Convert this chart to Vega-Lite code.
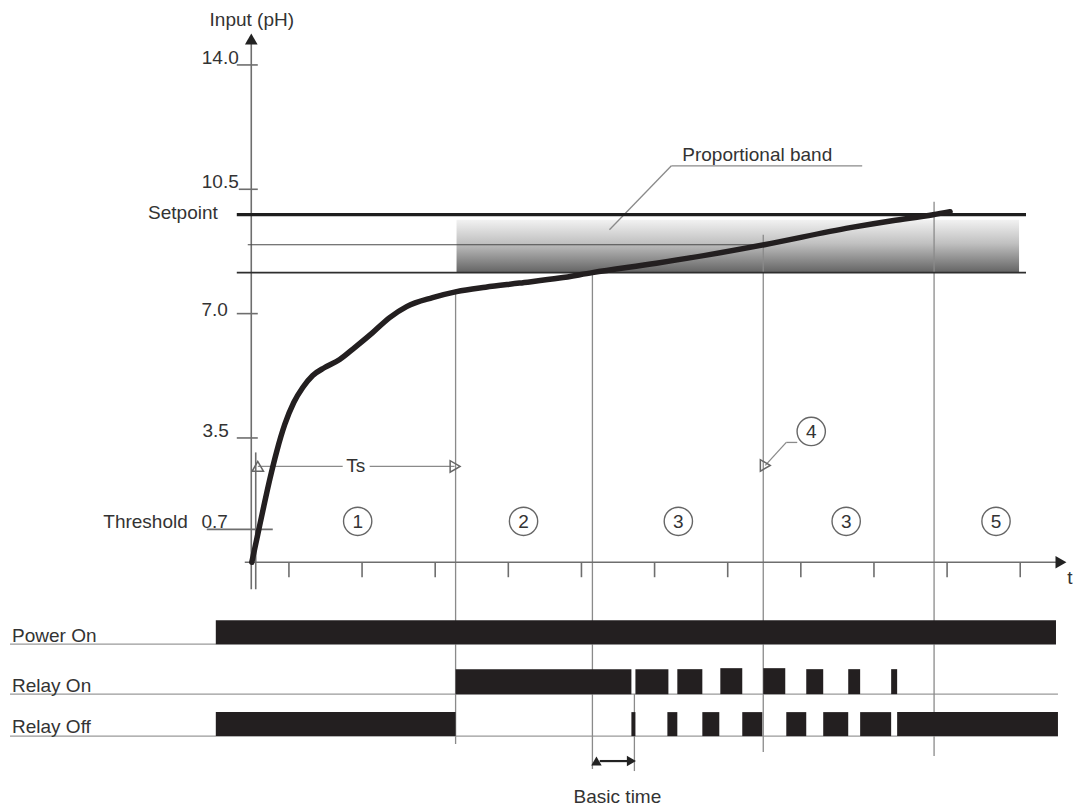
{
  "$schema": "https://vega.github.io/schema/vega-lite/v6.json",
  "width": 1073,
  "height": 808,
  "autosize": {"type": "fit", "contains": "padding"},
  "padding": 0,
  "background": "white",
  "config": {"view": {"stroke": null}},
  "datasets": {
    "band": [{"t": 3.292, "t2": 10.984, "p": 9.643, "p2": 8.153}],
    "segments": [
      {"t": 0.485, "t2": 0.485, "p": -0.759, "p2": 14.7, "kind": "axis"},
      {"t": 0.546, "t2": 0.546, "p": -0.759, "p2": 3.093, "kind": "axis"},
      {"t": 0.396, "t2": 11.557, "p": 0, "p2": 0, "kind": "axis"},
      {"t": 1, "t2": 1, "p": 0, "p2": -0.42, "kind": "axis"},
      {"t": 2, "t2": 2, "p": 0, "p2": -0.42, "kind": "axis"},
      {"t": 3, "t2": 3, "p": 0, "p2": -0.42, "kind": "axis"},
      {"t": 4, "t2": 4, "p": 0, "p2": -0.42, "kind": "axis"},
      {"t": 5, "t2": 5, "p": 0, "p2": -0.42, "kind": "axis"},
      {"t": 6, "t2": 6, "p": 0, "p2": -0.42, "kind": "axis"},
      {"t": 7, "t2": 7, "p": 0, "p2": -0.42, "kind": "axis"},
      {"t": 8, "t2": 8, "p": 0, "p2": -0.42, "kind": "axis"},
      {"t": 9, "t2": 9, "p": 0, "p2": -0.42, "kind": "axis"},
      {"t": 10, "t2": 10, "p": 0, "p2": -0.42, "kind": "axis"},
      {"t": 11, "t2": 11, "p": 0, "p2": -0.42, "kind": "axis"},
      {"t": 0.287, "t2": 0.574, "p": 14.0, "p2": 14.0, "kind": "axis"},
      {"t": 0.314, "t2": 0.574, "p": 10.5, "p2": 10.5, "kind": "axis"},
      {"t": 0.287, "t2": 0.574, "p": 7.0, "p2": 7.0, "kind": "axis"},
      {"t": 0.287, "t2": 0.574, "p": 3.5, "p2": 3.5, "kind": "axis"},
      {"t": -0.123, "t2": 0.779, "p": 0.928, "p2": 0.928, "kind": "axis"},
      {"t": 3.279, "t2": 3.279, "p": 7.675, "p2": -5.117, "kind": "thin"},
      {"t": 5.15, "t2": 5.15, "p": 8.153, "p2": -5.82, "kind": "thin"},
      {"t": 7.486, "t2": 7.486, "p": 9.221, "p2": -5.342, "kind": "thin"},
      {"t": 9.822, "t2": 9.822, "p": 10.149, "p2": -5.454, "kind": "thin"},
      {"t": 5.724, "t2": 5.724, "p": -3.711, "p2": -5.876, "kind": "thin"},
      {"t": 0.574, "t2": 1.735, "p": 2.699, "p2": 2.699, "kind": "thin"},
      {"t": 2.104, "t2": 3.265, "p": 2.699, "p2": 2.699, "kind": "thin"},
      {"t": 6.23, "t2": 8.839, "p": 11.161, "p2": 11.161, "kind": "thin"},
      {"t": 6.23, "t2": 5.383, "p": 11.161, "p2": 9.362, "kind": "thin"},
      {"t": 7.951, "t2": 7.801, "p": 3.374, "p2": 3.374, "kind": "thin"},
      {"t": 7.801, "t2": 7.514, "p": 3.374, "p2": 2.727, "kind": "thin"},
      {"t": 5.25, "t2": 5.64, "p": -5.595, "p2": -5.595, "kind": "dark"},
      {"t": 0.437, "t2": 7.5, "p": 8.94, "p2": 8.94, "kind": "mid"},
      {"t": 0.287, "t2": 11.079, "p": 9.786, "p2": 9.786, "kind": "setpoint"},
      {"t": 0.287, "t2": 11.079, "p": 8.153, "p2": 8.153, "kind": "band"},
      {"t": -2.814, "t2": 11.489, "p": -2.305, "p2": -2.305, "kind": "base"},
      {"t": -2.814, "t2": 11.516, "p": -3.711, "p2": -3.711, "kind": "base"},
      {"t": -2.814, "t2": 11.516, "p": -4.892, "p2": -4.892, "kind": "base"}
    ],
    "bars": [
      {"signal": "Power On", "t": 0, "t2": 11.489, "lo": -2.305, "hi": -1.631},
      {"signal": "Relay On", "t": 3.279, "t2": 5.683, "lo": -3.711, "hi": -3.008},
      {"signal": "Relay On", "t": 5.738, "t2": 6.189, "lo": -3.711, "hi": -3.008},
      {"signal": "Relay On", "t": 6.311, "t2": 6.653, "lo": -3.711, "hi": -3.008},
      {"signal": "Relay On", "t": 6.899, "t2": 7.199, "lo": -3.711, "hi": -2.98},
      {"signal": "Relay On", "t": 7.486, "t2": 7.787, "lo": -3.711, "hi": -2.98},
      {"signal": "Relay On", "t": 8.074, "t2": 8.306, "lo": -3.711, "hi": -3.008},
      {"signal": "Relay On", "t": 8.648, "t2": 8.811, "lo": -3.711, "hi": -3.008},
      {"signal": "Relay On", "t": 9.235, "t2": 9.317, "lo": -3.711, "hi": -3.008},
      {"signal": "Relay Off", "t": 0, "t2": 3.279, "lo": -4.892, "hi": -4.217},
      {"signal": "Relay Off", "t": 5.683, "t2": 5.738, "lo": -4.892, "hi": -4.217},
      {"signal": "Relay Off", "t": 6.175, "t2": 6.311, "lo": -4.892, "hi": -4.217},
      {"signal": "Relay Off", "t": 6.653, "t2": 6.885, "lo": -4.892, "hi": -4.217},
      {"signal": "Relay Off", "t": 7.199, "t2": 7.473, "lo": -4.892, "hi": -4.217},
      {"signal": "Relay Off", "t": 7.801, "t2": 8.074, "lo": -4.892, "hi": -4.217},
      {"signal": "Relay Off", "t": 8.306, "t2": 8.648, "lo": -4.892, "hi": -4.217},
      {"signal": "Relay Off", "t": 8.811, "t2": 9.235, "lo": -4.892, "hi": -4.217},
      {"signal": "Relay Off", "t": 9.317, "t2": 11.516, "lo": -4.892, "hi": -4.217}
    ],
    "curve": [
      {"t": 0.492, "p": 0.0},
      {"t": 0.574, "p": 0.787},
      {"t": 0.656, "p": 1.574},
      {"t": 0.738, "p": 2.333},
      {"t": 0.833, "p": 3.121},
      {"t": 0.943, "p": 3.880},
      {"t": 1.066, "p": 4.498},
      {"t": 1.189, "p": 4.920},
      {"t": 1.325, "p": 5.258},
      {"t": 1.489, "p": 5.483},
      {"t": 1.694, "p": 5.708},
      {"t": 1.899, "p": 6.045},
      {"t": 2.145, "p": 6.466},
      {"t": 2.377, "p": 6.888},
      {"t": 2.609, "p": 7.197},
      {"t": 2.964, "p": 7.45},
      {"t": 3.292, "p": 7.62},
      {"t": 3.689, "p": 7.745},
      {"t": 4.153, "p": 7.86},
      {"t": 4.699, "p": 8.0},
      {"t": 5.15, "p": 8.153},
      {"t": 6.025, "p": 8.42},
      {"t": 6.749, "p": 8.66},
      {"t": 7.5, "p": 8.94},
      {"t": 8.675, "p": 9.42},
      {"t": 9.249, "p": 9.615},
      {"t": 9.809, "p": 9.784},
      {"t": 10.041, "p": 9.87}
    ],
    "triangles": [
      {"t": 0.485, "p": 14.73, "dir": "up"},
      {"t": 11.557, "p": 0, "dir": "right"}
    ],
    "openArrows": [
      {"t": 0.574, "p": 2.699, "dir": "left"},
      {"t": 3.272, "p": 2.699, "dir": "right"},
      {"t": 7.514, "p": 2.727, "dir": "downleft"}
    ],
    "solidArrows": [
      {"t": 5.205, "p": -5.595, "dir": "left"},
      {"t": 5.683, "p": -5.595, "dir": "right"}
    ],
    "phases": [
      {"t": 1.94, "p": 1.153, "label": "1"},
      {"t": 4.208, "p": 1.153, "label": "2"},
      {"t": 6.325, "p": 1.153, "label": "3"},
      {"t": 8.62, "p": 1.153, "label": "3"},
      {"t": 10.669, "p": 1.153, "label": "5"},
      {"t": 8.142, "p": 3.683, "label": "4"}
    ],
    "labelsRight": [
      {"t": 0.314, "p": 14.197, "text": "14.0"},
      {"t": 0.314, "p": 10.711, "text": "10.5"},
      {"t": 0.027, "p": 9.84, "text": "Setpoint"},
      {"t": 0.164, "p": 7.113, "text": "7.0"},
      {"t": 0.178, "p": 3.683, "text": "3.5"},
      {"t": -0.383, "p": 1.125, "text": "Threshold"},
      {"t": 0.164, "p": 1.125, "text": "0.7"}
    ],
    "labelsCenter": [
      {"t": 0.492, "p": 15.266, "text": "Input (pH)"},
      {"t": 1.913, "p": 2.699, "text": "Ts"},
      {"t": 7.404, "p": 11.47, "text": "Proportional band"},
      {"t": 5.492, "p": -6.607, "text": "Basic time"},
      {"t": 11.68, "p": -0.45, "text": "t"}
    ],
    "labelsLeft": [
      {"t": -2.787, "p": -2.249, "text": "Power On"},
      {"t": -2.787, "p": -3.655, "text": "Relay On"},
      {"t": -2.787, "p": -4.808, "text": "Relay Off"}
    ]
  },
  "layer": [
    {
      "data": {"name": "band"},
      "mark": {
        "type": "rect",
        "fill": {
          "gradient": "linear",
          "x1": 0, "y1": 0, "x2": 0, "y2": 1,
          "stops": [
            {"offset": 0, "color": "#f2f2f2"},
            {"offset": 0.45, "color": "#c0c0c0"},
            {"offset": 1, "color": "#636363"}
          ]
        }
      },
      "encoding": {
        "x": {"field": "t", "type": "quantitative", "scale": {"domain": [-2.951, 11.708], "nice": false, "zero": false}, "axis": null},
        "x2": {"field": "t2"},
        "y": {"field": "p", "type": "quantitative", "scale": {"domain": [-6.888, 15.828], "nice": false, "zero": false}, "axis": null},
        "y2": {"field": "p2"}
      }
    },
    {
      "data": {"name": "segments"},
      "transform": [{"filter": "datum.kind === 'base'"}],
      "mark": {"type": "rule", "color": "#9a9a9a", "strokeWidth": 1.3},
      "encoding": {
        "x": {"field": "t", "type": "quantitative", "scale": {"domain": [-2.951, 11.708], "nice": false, "zero": false}, "axis": null},
        "x2": {"field": "t2"},
        "y": {"field": "p", "type": "quantitative", "scale": {"domain": [-6.888, 15.828], "nice": false, "zero": false}, "axis": null},
        "y2": {"field": "p2"}
      }
    },
    {
      "data": {"name": "segments"},
      "transform": [{"filter": "datum.kind === 'thin'"}],
      "mark": {"type": "rule", "color": "#8a8a8a", "strokeWidth": 1.3},
      "encoding": {
        "x": {"field": "t", "type": "quantitative", "scale": {"domain": [-2.951, 11.708], "nice": false, "zero": false}, "axis": null},
        "x2": {"field": "t2"},
        "y": {"field": "p", "type": "quantitative", "scale": {"domain": [-6.888, 15.828], "nice": false, "zero": false}, "axis": null},
        "y2": {"field": "p2"}
      }
    },
    {
      "data": {"name": "segments"},
      "transform": [{"filter": "datum.kind === 'axis'"}],
      "mark": {"type": "rule", "color": "#6e6e6e", "strokeWidth": 1.6},
      "encoding": {
        "x": {"field": "t", "type": "quantitative", "scale": {"domain": [-2.951, 11.708], "nice": false, "zero": false}, "axis": null},
        "x2": {"field": "t2"},
        "y": {"field": "p", "type": "quantitative", "scale": {"domain": [-6.888, 15.828], "nice": false, "zero": false}, "axis": null},
        "y2": {"field": "p2"}
      }
    },
    {
      "data": {"name": "segments"},
      "transform": [{"filter": "datum.kind === 'mid'"}],
      "mark": {"type": "rule", "color": "#4a4a4a", "strokeWidth": 1.1},
      "encoding": {
        "x": {"field": "t", "type": "quantitative", "scale": {"domain": [-2.951, 11.708], "nice": false, "zero": false}, "axis": null},
        "x2": {"field": "t2"},
        "y": {"field": "p", "type": "quantitative", "scale": {"domain": [-6.888, 15.828], "nice": false, "zero": false}, "axis": null},
        "y2": {"field": "p2"}
      }
    },
    {
      "data": {"name": "segments"},
      "transform": [{"filter": "datum.kind === 'band'"}],
      "mark": {"type": "rule", "color": "#2e2e2e", "strokeWidth": 1.7},
      "encoding": {
        "x": {"field": "t", "type": "quantitative", "scale": {"domain": [-2.951, 11.708], "nice": false, "zero": false}, "axis": null},
        "x2": {"field": "t2"},
        "y": {"field": "p", "type": "quantitative", "scale": {"domain": [-6.888, 15.828], "nice": false, "zero": false}, "axis": null},
        "y2": {"field": "p2"}
      }
    },
    {
      "data": {"name": "segments"},
      "transform": [{"filter": "datum.kind === 'setpoint'"}],
      "mark": {"type": "rule", "color": "#1e1e1e", "strokeWidth": 3.3},
      "encoding": {
        "x": {"field": "t", "type": "quantitative", "scale": {"domain": [-2.951, 11.708], "nice": false, "zero": false}, "axis": null},
        "x2": {"field": "t2"},
        "y": {"field": "p", "type": "quantitative", "scale": {"domain": [-6.888, 15.828], "nice": false, "zero": false}, "axis": null},
        "y2": {"field": "p2"}
      }
    },
    {
      "data": {"name": "segments"},
      "transform": [{"filter": "datum.kind === 'dark'"}],
      "mark": {"type": "rule", "color": "#222222", "strokeWidth": 2.2},
      "encoding": {
        "x": {"field": "t", "type": "quantitative", "scale": {"domain": [-2.951, 11.708], "nice": false, "zero": false}, "axis": null},
        "x2": {"field": "t2"},
        "y": {"field": "p", "type": "quantitative", "scale": {"domain": [-6.888, 15.828], "nice": false, "zero": false}, "axis": null},
        "y2": {"field": "p2"}
      }
    },
    {
      "data": {"name": "bars"},
      "mark": {"type": "rect", "color": "#231f20"},
      "encoding": {
        "x": {"field": "t", "type": "quantitative", "scale": {"domain": [-2.951, 11.708], "nice": false, "zero": false}, "axis": null},
        "x2": {"field": "t2"},
        "y": {"field": "lo", "type": "quantitative", "scale": {"domain": [-6.888, 15.828], "nice": false, "zero": false}, "axis": null},
        "y2": {"field": "hi"}
      }
    },
    {
      "data": {"name": "curve"},
      "mark": {"type": "line", "color": "#231f20", "strokeWidth": 5.5, "interpolate": "monotone", "strokeCap": "round"},
      "encoding": {
        "x": {"field": "t", "type": "quantitative", "scale": {"domain": [-2.951, 11.708], "nice": false, "zero": false}, "axis": null},
        "y": {"field": "p", "type": "quantitative", "scale": {"domain": [-6.888, 15.828], "nice": false, "zero": false}, "axis": null}
      }
    },
    {
      "data": {"name": "triangles"},
      "mark": {"type": "point", "filled": true, "color": "#222222", "size": 160, "opacity": 1},
      "encoding": {
        "x": {"field": "t", "type": "quantitative", "scale": {"domain": [-2.951, 11.708], "nice": false, "zero": false}, "axis": null},
        "y": {"field": "p", "type": "quantitative", "scale": {"domain": [-6.888, 15.828], "nice": false, "zero": false}, "axis": null},
        "shape": {"field": "dir", "type": "nominal", "legend": null,
          "scale": {"domain": ["up", "right"], "range": ["triangle-up", "triangle-right"]}}
      }
    },
    {
      "data": {"name": "openArrows"},
      "mark": {"type": "point", "filled": false, "color": "#666666", "strokeWidth": 1.5, "size": 130, "opacity": 1},
      "encoding": {
        "x": {"field": "t", "type": "quantitative", "scale": {"domain": [-2.951, 11.708], "nice": false, "zero": false}, "axis": null},
        "y": {"field": "p", "type": "quantitative", "scale": {"domain": [-6.888, 15.828], "nice": false, "zero": false}, "axis": null},
        "shape": {"field": "dir", "type": "nominal", "legend": null,
          "scale": {"domain": ["left", "right", "downleft"],
                    "range": ["M1.4,-0.8L0,0L1.4,0.8", "M-1.4,-0.8L0,0L-1.4,0.8", "M1.6,-0.36L0,0L0.22,-1.6"]}}
      }
    },
    {
      "data": {"name": "solidArrows"},
      "mark": {"type": "point", "filled": true, "color": "#222222", "size": 110, "opacity": 1},
      "encoding": {
        "x": {"field": "t", "type": "quantitative", "scale": {"domain": [-2.951, 11.708], "nice": false, "zero": false}, "axis": null},
        "y": {"field": "p", "type": "quantitative", "scale": {"domain": [-6.888, 15.828], "nice": false, "zero": false}, "axis": null},
        "shape": {"field": "dir", "type": "nominal", "legend": null,
          "scale": {"domain": ["left", "right"],
                    "range": ["M0,0L1.6,-0.85L1.1,0L1.6,0.85Z", "M0,0L-1.6,-0.85L-1.1,0L-1.6,0.85Z"]}}
      }
    },
    {
      "data": {"name": "phases"},
      "mark": {"type": "point", "shape": "circle", "filled": true, "fill": "white", "stroke": "#666666", "strokeWidth": 1.4, "size": 800, "opacity": 1},
      "encoding": {
        "x": {"field": "t", "type": "quantitative", "scale": {"domain": [-2.951, 11.708], "nice": false, "zero": false}, "axis": null},
        "y": {"field": "p", "type": "quantitative", "scale": {"domain": [-6.888, 15.828], "nice": false, "zero": false}, "axis": null}
      }
    },
    {
      "data": {"name": "phases"},
      "mark": {"type": "text", "font": "Liberation Sans", "fontSize": 19, "color": "#333333", "align": "center", "baseline": "middle", "dy": 1},
      "encoding": {
        "x": {"field": "t", "type": "quantitative", "scale": {"domain": [-2.951, 11.708], "nice": false, "zero": false}, "axis": null},
        "y": {"field": "p", "type": "quantitative", "scale": {"domain": [-6.888, 15.828], "nice": false, "zero": false}, "axis": null},
        "text": {"field": "label"}
      }
    },
    {
      "data": {"name": "labelsRight"},
      "mark": {"type": "text", "font": "Liberation Sans", "fontSize": 19, "color": "#333333", "align": "right", "baseline": "middle"},
      "encoding": {
        "x": {"field": "t", "type": "quantitative", "scale": {"domain": [-2.951, 11.708], "nice": false, "zero": false}, "axis": null},
        "y": {"field": "p", "type": "quantitative", "scale": {"domain": [-6.888, 15.828], "nice": false, "zero": false}, "axis": null},
        "text": {"field": "text"}
      }
    },
    {
      "data": {"name": "labelsCenter"},
      "mark": {"type": "text", "font": "Liberation Sans", "fontSize": 19, "color": "#333333", "align": "center", "baseline": "middle"},
      "encoding": {
        "x": {"field": "t", "type": "quantitative", "scale": {"domain": [-2.951, 11.708], "nice": false, "zero": false}, "axis": null},
        "y": {"field": "p", "type": "quantitative", "scale": {"domain": [-6.888, 15.828], "nice": false, "zero": false}, "axis": null},
        "text": {"field": "text"}
      }
    },
    {
      "data": {"name": "labelsLeft"},
      "mark": {"type": "text", "font": "Liberation Sans", "fontSize": 19, "color": "#333333", "align": "left", "baseline": "alphabetic"},
      "encoding": {
        "x": {"field": "t", "type": "quantitative", "scale": {"domain": [-2.951, 11.708], "nice": false, "zero": false}, "axis": null},
        "y": {"field": "p", "type": "quantitative", "scale": {"domain": [-6.888, 15.828], "nice": false, "zero": false}, "axis": null},
        "text": {"field": "text"}
      }
    }
  ]
}
